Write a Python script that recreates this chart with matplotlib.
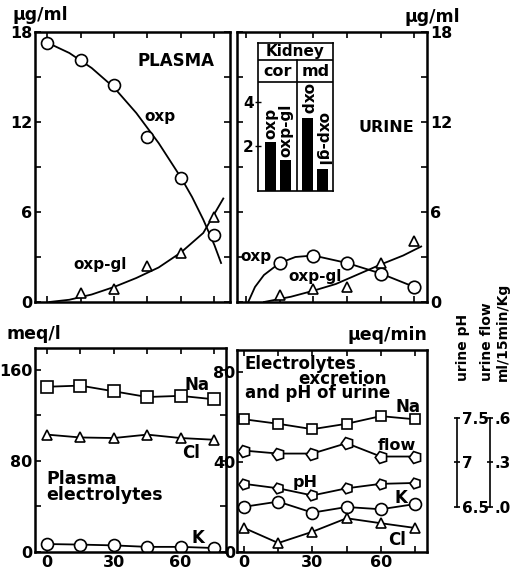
import matplotlib
matplotlib.use("Agg")
import matplotlib.pyplot as plt
from matplotlib.ticker import FuncFormatter

plt.rcParams['font.family'] = ['DejaVu Sans']
plt.rcParams['font.weight'] = 'bold'

# ---------------- data ----------------
times = [0, 15, 30, 45, 60, 75]
times_gl = [15, 30, 45, 60, 75]

plasma_oxp = [17.3, 16.1, 14.5, 11.0, 8.3, 4.5]
plasma_oxpgl = [0.6, 0.9, 2.4, 3.3, 5.7]
plasma_oxp_fit_t = [0, 10, 20, 30, 40, 50, 60, 65, 70, 75, 78]
plasma_oxp_fit = [17.3, 16.6, 15.6, 14.3, 12.6, 10.6, 8.3, 7.0, 5.5, 3.8, 2.6]
plasma_gl_fit_t = [1, 10, 20, 30, 40, 50, 60, 70, 79]
plasma_gl_fit = [0, 0.15, 0.5, 1.0, 1.6, 2.3, 3.3, 4.6, 6.9]

urine_oxp = [2.6, 3.1, 2.6, 1.9, 1.0]
urine_oxpgl = [0.45, 0.9, 1.0, 2.6, 4.1]
urine_oxp_fit_t = [1, 4, 8, 15, 22, 30, 45, 60, 75]
urine_oxp_fit = [0, 1.0, 1.8, 2.6, 3.0, 3.1, 2.6, 1.9, 1.0]
urine_gl_fit_t = [8, 20, 30, 40, 50, 60, 70, 78]
urine_gl_fit = [0, 0.35, 0.75, 1.2, 1.85, 2.5, 3.1, 3.7]

kidney_labels = ['oxp', 'oxp-gl', 'oxp', 'oxp-gl']
kidney_values = [2.2, 1.4, 3.3, 1.0]

pl_na = [145, 146, 141, 136, 137, 134]
pl_cl = [103, 100.5, 100, 103, 100, 98.5]
pl_k = [7, 6.5, 5.8, 4.5, 4.5, 3.5]

ur_na = [59, 57, 54.6, 57, 60.4, 59]
ur_flow = [0.38, 0.36, 0.36, 0.43, 0.34, 0.34]
ur_ph = [6.76, 6.71, 6.63, 6.71, 6.76, 6.77]
ur_k = [20.1, 22.4, 17.5, 20, 19, 21.3]
ur_cl = [10.7, 4, 9, 15, 12.8, 10.7]

# ---------------- figure ----------------
W, H = 514, 573
fig = plt.figure(figsize=(W / 100, H / 100), dpi=100)


def rect(x0, y0, x1, y1):
    return [x0 / W, 1 - y1 / H, (x1 - x0) / W, (y1 - y0) / H]


def P(x, y):
    return (x / W, 1 - y / H)


def ftext(x, y, s, size=12, ha='center', va='center', **kw):
    fig.text(*P(x, y), s, ha=ha, va=va, fontsize=size, fontweight='bold', **kw)


LW = 1.3
circ = dict(marker='o', mfc='white', mec='black', mew=1.2, ls='none', color='black')
tri = dict(marker='^', mfc='white', mec='black', mew=1.2, ls='none', color='black')


def style(ax, left_labels=True):
    for s in ax.spines.values():
        s.set_linewidth(1.8)
    ax.tick_params(which='both', direction='in', top=True, right=True, bottom=True, left=True,
                   length=4, width=1.2, labelsize=11.5, pad=2)
    ax.tick_params(which='minor', length=4)
    if not left_labels:
        ax.tick_params(labelleft=False, labelright=True)


xt = [0, 15, 30, 45, 60, 75]

# ---- top left: plasma ----
ax1 = fig.add_axes(rect(35, 32, 230, 302))
ax1.plot(plasma_oxp_fit_t, plasma_oxp_fit, color='black', lw=LW, zorder=2)
ax1.plot(plasma_gl_fit_t, plasma_gl_fit, color='black', lw=LW, zorder=2)
ax1.plot(times, plasma_oxp, ms=8.6, zorder=3, **circ)
ax1.plot(times_gl, plasma_oxpgl, ms=7, zorder=3, **tri)
ax1.set_xlim(-5.4, 82)
ax1.set_ylim(0, 18)
ax1.set_xticks(xt)
ax1.set_xticklabels([])
ax1.set_yticks([0, 6, 12, 18])
ax1.set_yticks([3, 9, 15], minor=True)
style(ax1)

# ---- top right: urine ----
ax2 = fig.add_axes(rect(237, 32, 427, 302))
ax2.plot(urine_oxp_fit_t, urine_oxp_fit, color='black', lw=LW, zorder=2)
ax2.plot(urine_gl_fit_t, urine_gl_fit, color='black', lw=LW, zorder=2)
ax2.plot(times_gl, urine_oxp, ms=9, zorder=3, **circ)
ax2.plot(times_gl, urine_oxpgl, ms=7, zorder=3, **tri)
ax2.set_xlim(-4, 80.6)
ax2.set_ylim(0, 18)
ax2.set_xticks(xt)
ax2.set_xticklabels([])
ax2.set_yticks([0, 6, 12, 18])
ax2.set_yticks([3, 9, 15], minor=True)
style(ax2, left_labels=False)

# ---- inset: kidney ----
axi = fig.add_axes(rect(258, 43, 333, 191))
bar_x = [0, 1, 2.5, 3.5]
axi.bar(bar_x, kidney_values, width=0.73, color='black')
axi.set_xlim(-0.83, 4.17)
axi.set_ylim(0, 6.65)
axi.set_xticks([])
axi.set_yticks([2, 4])
axi.tick_params(axis='y', direction='inout', length=4, width=1, labelsize=11, pad=1)
for s in axi.spines.values():
    s.set_linewidth(1.2)
axi.axhline(4.9, color='black', lw=1.2)
axi.axhline(5.89, color='black', lw=1.2)
axi.plot([1.8, 1.8], [0, 5.89], color='black', lw=1.2)
axi.text(1.67, 6.27, 'Kidney', ha='center', va='center', fontsize=11, fontweight='bold')
axi.text(0.5, 5.39, 'cor', ha='center', va='center', fontsize=11.5, fontweight='bold')
axi.text(3.0, 5.39, 'md', ha='center', va='center', fontsize=11.5, fontweight='bold')
for i, (bx, v, lab) in enumerate(zip(bar_x, kidney_values, kidney_labels)):
    rot = 90 if i < 2 else 270
    axi.text(bx, v + 0.15, lab, rotation=rot, ha='center', va='bottom',
             fontsize=11, fontweight='bold')

# ---- bottom left: plasma electrolytes ----
ax3 = fig.add_axes(rect(35, 348, 226, 552))
ax3.plot(times, pl_na, marker='s', ms=8, mfc='white', mec='black', mew=1.2, color='black', lw=LW)
ax3.plot(times, pl_cl, marker='^', ms=7, mfc='white', mec='black', mew=1.2, color='black', lw=LW)
ax3.plot(times, pl_k, marker='o', ms=8.6, mfc='white', mec='black', mew=1.2, color='black', lw=LW)
ax3.set_xlim(-5.4, 80.4)
ax3.set_ylim(0, 179)
ax3.set_xticks([0, 30, 60])
ax3.set_xticks([15, 45, 75], minor=True)
ax3.set_yticks([0, 80, 160])
ax3.set_yticks([40, 120], minor=True)
style(ax3)

# ---- bottom right: urine electrolytes ----
ax4 = fig.add_axes(rect(237, 350, 427, 552))
ax4.plot(times, ur_na, marker='s', ms=7.5, mfc='white', mec='black', mew=1.2, color='black', lw=LW)
ax4.plot(times, ur_k, marker='o', ms=8.6, mfc='white', mec='black', mew=1.2, color='black', lw=LW)
ax4.plot(times, ur_cl, marker='^', ms=7, mfc='white', mec='black', mew=1.2, color='black', lw=LW)
ax4.set_xlim(-3.1, 80.3)
ax4.set_ylim(0, 89.8)
ax4.set_xticks([0, 30, 60])
ax4.set_xticks([15, 45, 75], minor=True)
ax4.set_yticks([0, 40, 80])
ax4.set_yticks([20, 60], minor=True)
style(ax4, left_labels=False)
ax4.tick_params(axis='y', pad=1)

# pH axis (6.5 <-> 20, 7.5 <-> 59.6 on main scale)
ph_per = (59.6 - 20) / 1.0
axph = ax4.twinx()
axph.set_ylim(6.5 - 20 / ph_per, 6.5 + (89.8 - 20) / ph_per)
axph.plot(times, ur_ph, marker=(5, 0, 90), ms=8, mfc='white', mec='black', mew=1.2,
          color='black', lw=LW, clip_on=False)
for s in ['top', 'left', 'bottom']:
    axph.spines[s].set_visible(False)
axph.spines['right'].set_position(('axes', (457 - 237) / 190))
axph.spines['right'].set_bounds(6.5, 7.5)
axph.spines['right'].set_linewidth(1.2)
axph.set_yticks([6.5, 7, 7.5])
axph.yaxis.set_major_formatter(FuncFormatter(lambda v, p: ('%g' % v)))
axph.tick_params(axis='y', direction='inout', length=5, width=1.2, labelsize=11, pad=1)

# flow axis (.0 <-> 20, .6 <-> 59.6 on main scale)
fl_per = (59.6 - 20) / 0.6
axfl = ax4.twinx()
axfl.set_ylim(0 - 20 / fl_per, (89.8 - 20) / fl_per)
axfl.plot(times, ur_flow, marker=(5, 0, 90), ms=9, mfc='white', mec='black', mew=1.2,
          color='black', lw=LW)
for s in ['top', 'left', 'bottom']:
    axfl.spines[s].set_visible(False)
axfl.spines['right'].set_position(('axes', (490 - 237) / 190))
axfl.spines['right'].set_bounds(0, 0.6)
axfl.spines['right'].set_linewidth(1.2)
axfl.set_yticks([0, 0.3, 0.6])
axfl.yaxis.set_major_formatter(FuncFormatter(lambda v, p: ('%.1f' % v).lstrip('0')))
axfl.tick_params(axis='y', direction='inout', length=5, width=1.2, labelsize=11, pad=1)

# ---------------- texts ----------------
ftext(176, 61, 'PLASMA', 12)
ftext(160, 117, 'oxp', 11)
ftext(100, 265, 'oxp-gl', 11)
ftext(386, 128, 'URINE', 11.5)
ftext(256, 257, 'oxp', 11)
ftext(315, 277, 'oxp-gl', 11)

ftext(197, 385, 'Na', 12)
ftext(191, 453, 'Cl', 12)
ftext(46, 487, 'Plasma\nelectrolytes', 12.5, ha='left', linespacing=0.8)
ftext(198, 538, 'K', 12)

ftext(245, 364, 'Electrolytes', 12, ha='left')
ftext(298, 379, 'excretion', 12, ha='left')
ftext(245, 393, 'and pH of urine', 12, ha='left')
ftext(408, 407, 'Na', 12)
ftext(397, 445, 'flow', 11.5)
ftext(305, 482, 'pH', 11.5)
ftext(401, 498, 'K', 12)
ftext(397, 540, 'Cl', 12)

ftext(12, 15, 'µg/ml', 12.5, ha='left')
ftext(460, 17, 'µg/ml', 12.5, ha='right')
ftext(7, 334, 'meq/l', 12.5, ha='left')
ftext(427, 335, 'µeq/min', 12.5, ha='right')

ftext(463, 381, 'urine pH', 10, va='bottom', rotation=90)
ftext(487, 381, 'urine flow', 10, va='bottom', rotation=90)
ftext(503, 381, 'ml/15min/Kg', 10, va='bottom', rotation=90)

fig.savefig('out.png', dpi=100)
